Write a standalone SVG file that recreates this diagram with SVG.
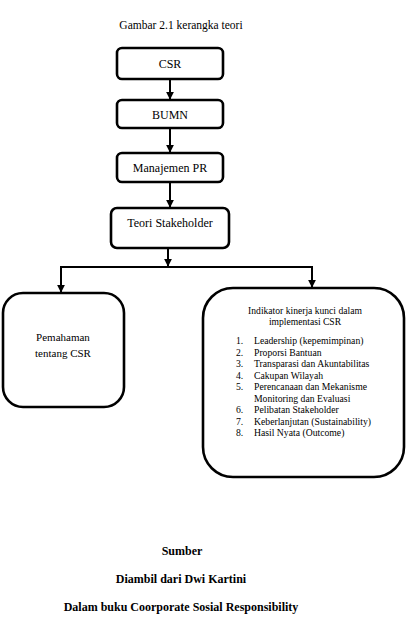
<svg xmlns="http://www.w3.org/2000/svg" width="407" height="633" viewBox="0 0 407 633">
<style>
.box{fill:#fff;stroke:#000;stroke-width:2.6}
.t{font-family:"Liberation Serif","Times New Roman",serif;fill:#000}
.c{text-anchor:middle}
.line{stroke:#000;stroke-width:2;fill:none}
</style>
<defs>
<marker id="ah" viewBox="0 0 10 10" refX="9" refY="5" markerWidth="4" markerHeight="4" orient="auto" markerUnits="strokeWidth">
<path d="M0,0 L10,5 L0,10 Z" fill="#000"/>
</marker>
</defs>
<rect width="407" height="633" fill="#fff"/>
<text class="t c" x="181" y="29" font-size="11.5">Gambar 2.1 kerangka teori</text>

<g id="csr"><rect class="box" x="117" y="48" width="106" height="31" rx="5"/><text class="t c" x="170" y="68" font-size="12">CSR</text></g>
<g id="bumn"><rect class="box" x="117" y="100" width="106" height="28" rx="5"/><text class="t c" x="170" y="119" font-size="12">BUMN</text></g>
<g id="manajemen"><rect class="box" x="117" y="153" width="106" height="29" rx="5"/><text class="t c" x="170" y="172" font-size="12">Manajemen PR</text></g>
<g id="teori"><rect class="box" x="111" y="208" width="118" height="40" rx="6"/><text class="t c" x="170" y="227" font-size="12">Teori Stakeholder</text></g>

<g id="pemahaman"><rect class="box" x="3" y="293" width="121" height="114" rx="20"/>
<text class="t c" x="63" y="341" font-size="11">Pemahaman</text>
<text class="t c" x="63" y="357" font-size="11">tentang CSR</text></g>

<g id="indikator"><rect class="box" x="203" y="288" width="201" height="189" rx="30"/>
<text class="t c" x="305" y="314" font-size="9.6">Indikator kinerja kunci dalam</text>
<text class="t c" x="305" y="325" font-size="9.6">implementasi CSR</text>
<g class="t" font-size="9.7">
<text x="236" y="344">1.</text><text x="254" y="344">Leadership (kepemimpinan)</text>
<text x="236" y="355.5">2.</text><text x="254" y="355.5">Proporsi Bantuan</text>
<text x="236" y="367">3.</text><text x="254" y="367">Transparasi dan Akuntabilitas</text>
<text x="236" y="378.5">4.</text><text x="254" y="378.5">Cakupan Wilayah</text>
<text x="236" y="390">5.</text><text x="254" y="390">Perencanaan dan Mekanisme</text>
<text x="254" y="401.5">Monitoring dan Evaluasi</text>
<text x="236" y="413">6.</text><text x="254" y="413">Pelibatan Stakeholder</text>
<text x="236" y="424.5">7.</text><text x="254" y="424.5">Keberlanjutan (Sustainability)</text>
<text x="236" y="436">8.</text><text x="254" y="436">Hasil Nyata (Outcome)</text>
</g></g>

<g id="connectors">
<line class="line" x1="170" y1="80" x2="170" y2="99" marker-end="url(#ah)"/>
<line class="line" x1="170" y1="129" x2="170" y2="152" marker-end="url(#ah)"/>
<line class="line" x1="170" y1="183" x2="170" y2="207" marker-end="url(#ah)"/>
<line class="line" x1="168" y1="249" x2="168" y2="266" marker-end="url(#ah)"/>
<polyline class="line" points="61,291 61,267 312,267 312,285"/>
<line class="line" x1="61" y1="268" x2="61" y2="292" marker-end="url(#ah)"/>
<line class="line" x1="312" y1="268" x2="312" y2="287" marker-end="url(#ah)"/>
</g>

<g class="t c" font-size="12" font-weight="bold">
<text x="182" y="555">Sumber</text>
<text x="181" y="583">Diambil dari Dwi Kartini</text>
<text x="181" y="611">Dalam buku Coorporate Sosial Responsibility</text>
</g>
</svg>
